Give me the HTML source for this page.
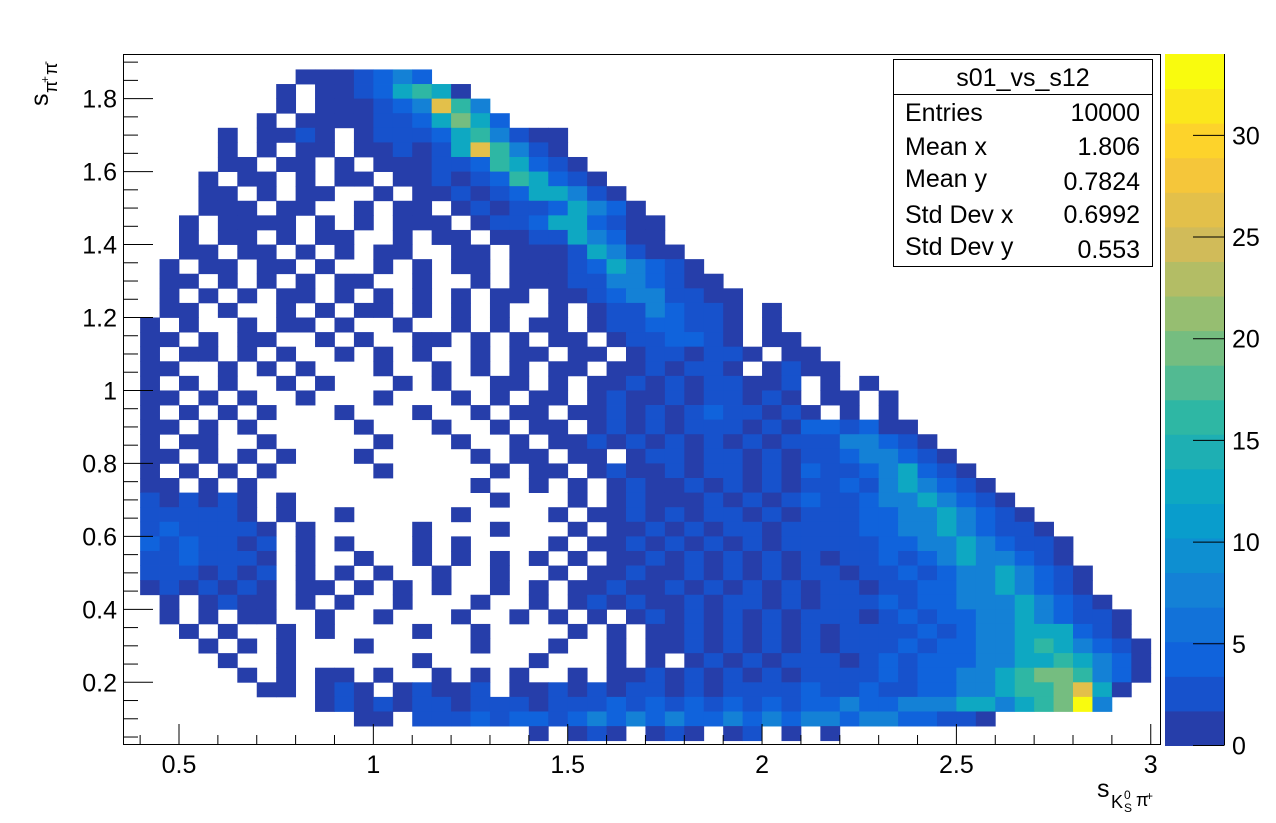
<!DOCTYPE html>
<html><head><meta charset="utf-8"><style>
html,body{margin:0;padding:0;background:#fff;}
svg{display:block;font-family:"Liberation Sans",Arial,sans-serif;}
</style></head><body>
<svg id="chart" width="1276" height="823" viewBox="0 0 1276 823" xmlns="http://www.w3.org/2000/svg">
<rect x="0" y="0" width="1276" height="823" fill="#fff"/>
<g id="cells"></g>
<g id="axes"></g>
<g id="palette"></g>
<g>
<rect x="893.5" y="59.5" width="259" height="207" fill="#fff" stroke="#000" stroke-width="1"/>
<line x1="893.5" y1="94.5" x2="1152.5" y2="94.5" stroke="#000"/>
<text x="1023" y="86" font-size="25" text-anchor="middle">s01_vs_s12</text>
<text x="905" y="121" font-size="25">Entries</text>
<text x="1140" y="121" font-size="25" text-anchor="end">10000</text>
<text x="905" y="155" font-size="25">Mean x</text>
<text x="1140" y="155" font-size="25" text-anchor="end">1.806</text>
<text x="905" y="187" font-size="25">Mean y</text>
<text x="1140" y="190" font-size="25" text-anchor="end">0.7824</text>
<text x="905" y="223" font-size="25">Std Dev x</text>
<text x="1140" y="223" font-size="25" text-anchor="end">0.6992</text>
<text x="905" y="255" font-size="25">Std Dev y</text>
<text x="1140" y="258" font-size="25" text-anchor="end">0.553</text>
</g>
<g font-size="25">
<text x="1097" y="797">s</text>
<text x="1111" y="808" font-size="18">K</text>
<text x="1124" y="799" font-size="12">0</text>
<text x="1124" y="812" font-size="12">S</text>
<text x="1136" y="806" font-size="18">π</text>
<text x="1146" y="800" font-size="12">+</text>
</g>
<g transform="translate(48,106) rotate(-90)" font-size="25">
<text x="0" y="0">s</text>
<text x="13" y="9" font-size="18">π</text>
<text x="23" y="1" font-size="12">+</text>
<text x="31" y="9" font-size="18">π</text>
<text x="41" y="1" font-size="12">-</text>
</g>
</svg>
<script>
// ---- data ----
const xMin = 0.35, xStep = 0.05;
const yTop = 1.92, yStep = 0.04;
const levelValues = [0, 1, 3, 5, 8, 12, 16, 20, 27, 34];
const rowStart = [0,9,8,8,7,5,5,5,4,4,4,3,3,3,2,2,2,2,1,1,1,1,1,1,1,1,1,1,1,1,1,1,1,1,1,1,1,2,2,3,4,5,6,7,10,12,21];
const rowCells = [
"",
"1112343",
"1.11235651",
"1.111234864",
"1.11112235753",
"1.1121.12223564211",
"1.1.11.11212586421",
"11.11.1.11122365321",
"1.11.1.11.11212365321",
"11.1.11..1.11212355421",
"111.11..1.11.1212235431",
"1.1111.1.1.111.1223553211",
"1.11.1.11..1.11.112254311",
"11.11.1.1.11..11.111254211",
"1.11.11.1..1.1.11.1112354321",
"11.1."+"1.1.1"+"1..1."+".1.11"+"12244"+"3211",
"1.1.1"+".11.1"+".1.1."+"1.11."+"11234"+"42211",
"11.1."+".1.1."+"11.1."+"1.1.."+"1.122"+"43221"+".1",
"1.1.."+"1.11."+"1..1."+".1.1."+"11.12"+"23322"+"1.1",
"11.1."+"11..1"+".1..1"+"1.1.1"+".11.1"+"22332"+"1.11",
"1.11."+"1.1.."+"1.1.1"+"..1.1"+"1.11."+"12212"+"21.11",
"11..1"+".1.1."+"..1.."+"1.1.1"+".11.1"+"12122"+"1.121"+"1",
"1.1.1"+"..1.1"+"...1."+"1..11"+".1.11"+"21212"+"2112."+"1.1",
"11.1."+"1..1."+"..1.."+".1.1."+"11.12"+"11212"+"2121."+"11.1",
"1.1.1"+".1..."+"1...1"+"..1.1"+"1.112"+"12123"+"22121"+".1.1",
"11.1."+"1...."+".1..."+"1..1."+"11.12"+"12122"+"21213"+"32311",
"1.11."+".1..."+"..1.."+".1..1"+".1121"+"21212"+"12122"+"244321",
"11.1."+"1.1.."+".1..."+"..1.1"+"1.11."+"12212"+"21212"+"2344321",
"1.1.1"+".1..."+"..1.."+"...1."+"11.12"+"11212"+"21213"+"22345321",
"11.1."+"1...."+"....."+"..1.."+"1.1.1"+"21121"+"21212"+"232454321",
"21212"+"1.1.."+"....."+"...1."+"..1.1"+"21112"+"12123"+"2234454321",
"22222"+"1.1.."+"1...."+".1..."+".1.11"+"21212"+"21212"+"22334454321",
"23222"+"21.1."+"....1"+"...1."+"..1.1"+"12121"+"22122"+"223344543221",
"32322"+"12.1."+"1...1"+".1..."+".1.11"+"21212"+"12122"+"2223344543221",
"22322"+"21.1."+".1..1"+".1.1."+"1.1.1"+"12121"+"21212"+"1223234544321",
"22212"+"12.1."+"1.1.."+"1..1."+".1.11"+"21121"+"21212"+"21223234454321",
"12121"+"21.11"+".1.1."+"1..1."+"1.112"+"11212"+"12121"+"22122334454321",
"1.121"+"1.1.1"+"..1.."+".1..1"+".1212"+"11212"+"21212"+"22323344454321",
"1.1.1"+"1..1."+".1..."+"1..1."+"1.1.1"+"21212"+"12122"+"212323344543221",
"1.1.."+"1.1.."+"..1.."+"1...."+"1.1.1"+"12121"+"21212"+"22232344555321",
"1.1.1"+"...1."+"....1"+"...1."+".1.11"+"21212"+"12122"+"23233445654321",
"1..1."+"....."+"1...."+".1..."+"1.1.1"+"21212"+"22123"+"2333445565431",
"1.1.1"+"1.1.."+"1.1.1"+"..1.1"+"12121"+"21212"+"22232"+"334456776431",
"11.12"+"1.121"+"12.11"+"21212"+"21212"+"22232"+"23223"+"3445667851",
"12121"+"22122"+"21222"+"32323"+"23232"+"33433"+"44455"+"456794",
"11."+"22232"+"33234"+"34343"+"34343"+"44344"+"33221",
"1.121.121.12.1.1"
];
const xTickLabels = ["0.5","1","1.5","2","2.5","3"];
const yTickLabels = ["0.2","0.4","0.6","0.8","1","1.2","1.4","1.6","1.8"];
const zTickLabels = ["0","5","10","15","20","25","30"];
const zMax = 34;

// ---- axes functions ----
const FL=123, FR=1160, FT=54, FB=745;
function X(v){ return 179 + (v-0.5)*388.7; }
function Y(v){ return 682.3 - (v-0.2)*364.8; }
const ZB=745.5, ZT=54;
function Z(v){ return ZB - v*(ZB-ZT)/zMax; }
const NS="http://www.w3.org/2000/svg";
function mk(tag, attrs, parent){ const e=document.createElementNS(NS,tag); for(const k in attrs) e.setAttribute(k,attrs[k]); parent.appendChild(e); return e; }
const R=[0.2082,0.0592,0.0780,0.0232,0.1802,0.5301,0.8186,0.9956,0.9764];
const G=[0.1664,0.3599,0.5041,0.6419,0.7178,0.7492,0.7328,0.7862,0.9832];
const B=[0.5293,0.8684,0.8385,0.7914,0.6425,0.4662,0.3499,0.1968,0.0539];
function pal(t){ t=Math.max(0,Math.min(1,t)); const s=t*8; let i=Math.floor(s); if(i>=8)i=7; const f=s-i;
  const c=[R,G,B].map(a=>Math.round(255*(a[i]+(a[i+1]-a[i])*f)));
  return "rgb("+c.join(",")+")"; }
const NC=20;
function bandColor(k){ return pal((k+1)/NC); }
function colorFor(v){ let k=Math.floor(v/zMax*NC); if(k>=NC)k=NC-1; return bandColor(k); }

// ---- cells ----
const cellsG=document.getElementById('cells');
const clip=mk('clipPath',{id:'fc'},cellsG); mk('rect',{x:FL,y:FT,width:FR-FL,height:FB-FT},clip);
cellsG.setAttribute('clip-path','url(#fc)');
rowCells.forEach((s,i)=>{
  for(let c=0;c<s.length;c++){
    const ch=s[c]; if(ch==='.') continue;
    const v=levelValues[parseInt(ch,10)]; if(!v) continue;
    const j=rowStart[i]+c;
    const x0=X(xMin+j*xStep), x1=X(xMin+(j+1)*xStep);
    const y0=Y(yTop-i*yStep), y1=Y(yTop-(i+1)*yStep);
    const r=mk('rect',{x:x0.toFixed(2),y:y0.toFixed(2),width:(x1-x0+0.4).toFixed(2),height:(y1-y0+0.4).toFixed(2),fill:colorFor(v)},cellsG);
    
    
  }
});

// ---- axes ----
const ax=document.getElementById('axes');
mk('rect',{x:FL+0.5,y:FT+0.5,width:FR-FL,height:FB-FT-1,fill:'none',stroke:'#000','stroke-width':1},ax);
for(let k=4;k<=30;k++){ const v=k/10; const x=X(v); if(x<FL||x>FR) continue;
  const major=(k%5===0);
  mk('line',{x1:x,y1:FB,x2:x,y2:FB-(major?21:10),stroke:'#000','stroke-width':1},ax); }
xTickLabels.forEach(l=>{ const t=mk('text',{x:X(parseFloat(l)),y:773,'font-size':25,'text-anchor':'middle'},ax); t.textContent=l;
  
   });
for(let k=1;k<=38;k++){ const v=k*0.05; const y=Y(v); if(y<FT||y>FB) continue;
  const major=(k%4===0);
  mk('line',{x1:FL,y1:y,x2:FL+(major?30:15),y2:y,stroke:'#000','stroke-width':1},ax); }
yTickLabels.forEach(l=>{ const t=mk('text',{x:117,y:Y(parseFloat(l))+9,'font-size':25,'text-anchor':'end'},ax); t.textContent=l;
  
   });

// ---- palette ----
const pg=document.getElementById('palette');
const PL=1165, PR=1224;
for(let k=0;k<NC;k++){ const v0=k*zMax/NC, v1=(k+1)*zMax/NC;
  const r=mk('rect',{x:PL,y:Z(v1).toFixed(2),width:PR-PL,height:(Z(v0)-Z(v1)+0.5).toFixed(2),fill:bandColor(k)},pg);
  
   }
mk('line',{x1:PR+0.5,y1:ZT,x2:PR+0.5,y2:ZB,stroke:'#000','stroke-width':1},pg);
zTickLabels.forEach(l=>{ const v=parseFloat(l); const y=Z(v);
  mk('line',{x1:PR-31,y1:y,x2:PR,y2:y,stroke:'#000','stroke-width':1},pg);
  const t=mk('text',{x:PR+8,y:y+9,'font-size':25},pg); t.textContent=l;
  
   });
</script>
</body></html>
